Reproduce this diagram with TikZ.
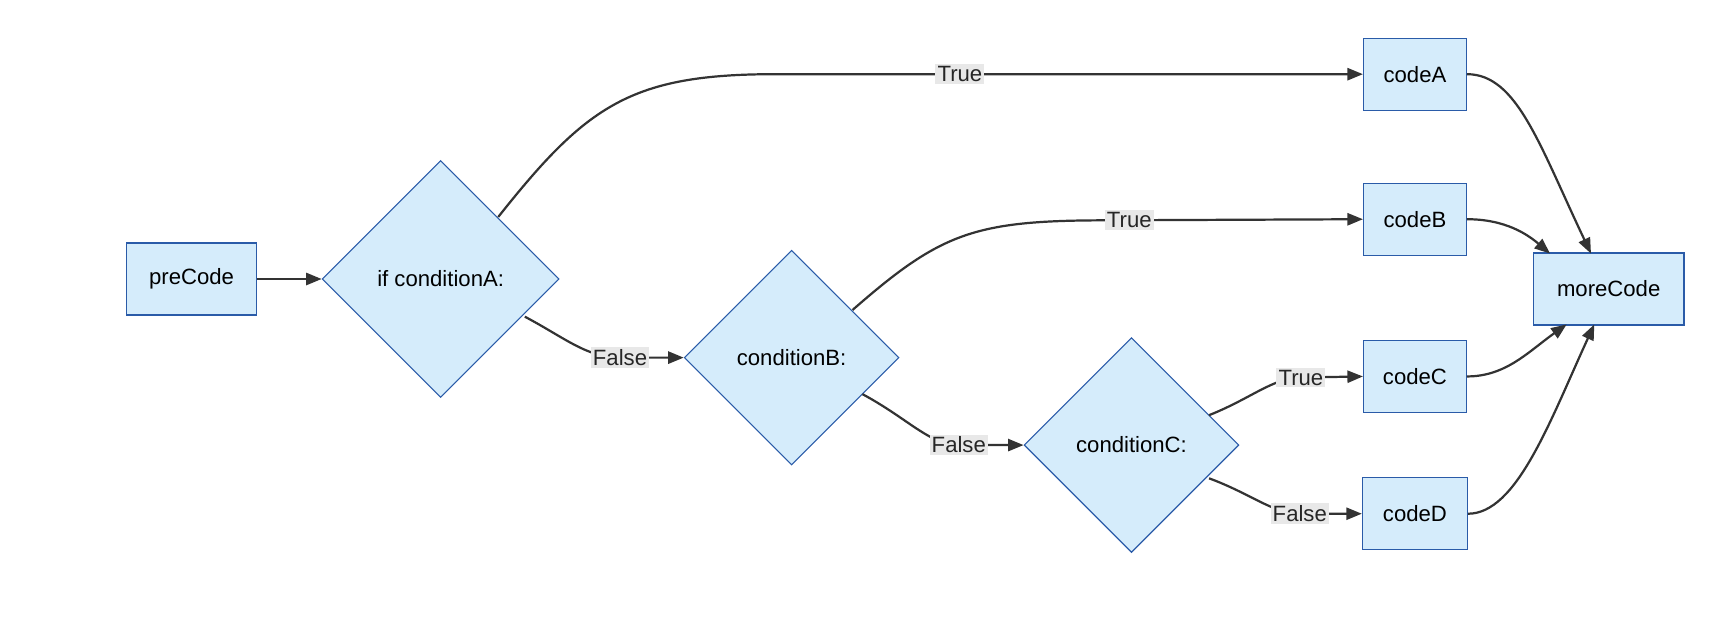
\documentclass[tikz,border=0pt]{standalone}
\usepackage{fontspec}
\setmainfont{Liberation Sans}
\usetikzlibrary{shapes.geometric,arrows.meta}
\definecolor{nfill}{HTML}{D5ECFB}
\definecolor{nline}{HTML}{2A5BA8}
\definecolor{eline}{HTML}{333333}
\definecolor{lbg}{HTML}{E8E8E8}
\begin{document}
\begin{tikzpicture}[x=1pt,y=-1pt,
  font=\fontsize{20}{24}\selectfont,
  box/.style={draw=nline,fill=nfill,line width=1pt,minimum height=65pt,inner sep=0pt},
  dia/.style={draw=nline,fill=nfill,line width=1pt,diamond,aspect=1,inner sep=0pt},
  lab/.style={fill=lbg,inner sep=2pt,text=black!85},
  edge/.style={draw=eline,line width=2pt,-{Triangle[length=14pt,width=11pt]}},
  seg/.style={draw=eline,line width=2pt}]
\useasboundingbox (0,0) rectangle (1568,571);
\node[box,minimum width=118pt] (pre) at (173,252) {preCode};
\node[dia,minimum size=214pt] (A) at (398,252) {if conditionA:};
\node[dia,minimum size=194pt] (B) at (715,323) {conditionB:};
\node[dia,minimum size=194pt] (C) at (1022,402) {conditionC:};
\node[box,minimum width=93pt] (cA) at (1278,67) {codeA};
\node[box,minimum width=93pt] (cB) at (1278,198) {codeB};
\node[box,minimum width=93pt] (cC) at (1278,340) {codeC};
\node[box,minimum width=95pt] (cD) at (1278,464) {codeD};
\node[box,minimum width=136pt] (more) at (1453,261) {moreCode};

\coordinate (a1) at (450,196);
\coordinate (b1) at (770,280);
\coordinate (b2) at (779,356);
\coordinate (a2) at (474,286);
\coordinate (c1) at (1092,375);
\coordinate (c2) at (1092,432);

\draw[edge] (pre) -- (A.west);
\draw[edge] (a1) .. controls (530,95) and (570,67) .. (700,67) -- (cA.west);
\node[lab] (tA) at (867,67) {True};
\draw[edge] (a2) .. controls (510,305) and (530,323) .. (560,323) -- (B.west);
\node[lab] (fA) at (560,323) {False};
\draw[edge] (b1) .. controls (850,210) and (880,199) .. (1000,199) -- (cB.west);
\node[lab] (tB) at (1020,199) {True};
\draw[edge] (b2) .. controls (820,378) and (840,402) .. (866,402) -- (C.west);
\node[lab] (fB) at (866,402) {False};
\draw[edge] (c1) .. controls (1130,360) and (1150,341) .. (1175,341) -- (cC.west);
\node[lab] (tC) at (1175,341) {True};
\draw[edge] (c2) .. controls (1130,446) and (1150,464) .. (1174,464) -- (cD.west);
\node[lab] (fC) at (1174,464) {False};

\draw[edge] (cA.east) .. controls (1370,67) and (1390,130) .. (1437,229);
\draw[edge] (cB.east) .. controls (1360,198) and (1380,212) .. (1400,229);
\draw[edge] (cC.east) .. controls (1360,340) and (1380,318) .. (1415,293);
\draw[edge] (cD.east) .. controls (1370,464) and (1400,380) .. (1440,293);
\end{tikzpicture}
\end{document}
